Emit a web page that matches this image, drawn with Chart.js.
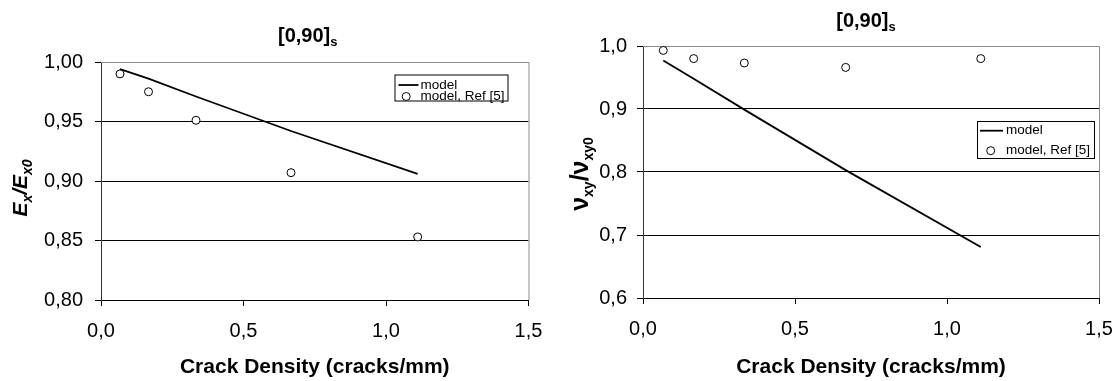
<!DOCTYPE html>
<html>
<head>
<meta charset="utf-8">
<script src="https://cdn.jsdelivr.net/npm/chart.js@4/dist/chart.umd.min.js"></script>
<style>
  html, body { margin:0; padding:0; background:#fff; }
  #wrap { position:relative; width:1118px; height:381px; }
  #c1 { position:absolute; left:0; top:0; }
  #c2 { position:absolute; left:560px; top:0; }
</style>
</head>
<body>
<div id="wrap">
  <canvas id="c1" width="560" height="381"></canvas>
  <canvas id="c2" width="558" height="381"></canvas>
</div>
<script>
// crack density (cracks/mm), shared by both panels
const crackDensity = [0.0667, 0.1667, 0.3333, 0.6667, 1.1111];
// E_x / E_x0
const exModel = [0.994, 0.986, 0.971, 0.942, 0.906];
const exRef   = [0.990, 0.975, 0.951, 0.907, 0.853];
// nu_xy / nu_xy0
const nuModel = [0.977, 0.948, 0.899, 0.803, 0.681];
const nuRef   = [0.993, 0.980, 0.973, 0.966, 0.980];

const seriesLabels = ['model', 'model, Ref [5]'];
const xTicks = [0, 0.5, 1.0, 1.5];

const FONT = "'Liberation Sans', Arial, sans-serif";
const pts = (xs, ys) => xs.map((x, i) => ({ x, y: ys[i] }));
const comma = d => v => v.toFixed(d).replace('.', ',');

function drawRich(ctx, parts, cx, by) {
  let w = 0;
  parts.forEach(p => { ctx.font = p.font; p.w = ctx.measureText(p.t).width; w += p.w; });
  let x = cx - w / 2;
  ctx.textAlign = 'left'; ctx.textBaseline = 'alphabetic'; ctx.fillStyle = '#000';
  parts.forEach(p => { ctx.font = p.font; ctx.fillText(p.t, x, by + (p.dy || 0)); x += p.w; });
}

// titles, frame, legend
const decor = {
  id: 'decor',
  beforeDatasetsDraw(chart, args, o) {
    const { ctx, chartArea: a } = chart;
    ctx.save();
    ctx.strokeStyle = '#8c8c8c'; ctx.lineWidth = 1;
    ctx.beginPath();
    ctx.moveTo(a.left, a.top + 0.5); ctx.lineTo(a.right + 0.5, a.top + 0.5); ctx.lineTo(a.right + 0.5, a.bottom);
    ctx.stroke();
    ctx.restore();
  },
  afterDraw(chart, args, o) {
    const { ctx, chartArea: a } = chart;
    const mid = (a.left + a.right) / 2;
    ctx.save();
    // chart title
    drawRich(ctx, [
      { t: '[0,90]', font: 'bold 20px ' + FONT },
      { t: 's', font: 'bold 13px ' + FONT, dy: 4 }
    ], mid + o.titleDx, o.titleY);
    // x axis title
    drawRich(ctx, [{ t: 'Crack Density (cracks/mm)', font: 'bold 21px ' + FONT }], mid, 373);
    // y axis title
    ctx.save();
    ctx.translate(o.yTitleX, o.yTitleY);
    ctx.rotate(-Math.PI / 2);
    drawRich(ctx, o.yTitle, 0, 0);
    ctx.restore();
    // legend
    const L = o.legend;
    const bx = a.right - L.right - L.w, by = a.top + L.top;
    ctx.fillStyle = '#fff'; ctx.fillRect(bx, by, L.w, L.h);
    ctx.strokeStyle = '#000'; ctx.lineWidth = 1;
    ctx.strokeRect(bx + 0.5, by + 0.5, L.w, L.h);
    const ds = chart.data.datasets;
    ctx.font = '13.5px ' + FONT; ctx.textBaseline = 'middle'; ctx.textAlign = 'left'; ctx.fillStyle = '#000';
    ctx.beginPath();
    ctx.lineWidth = ds[0].borderWidth; ctx.strokeStyle = ds[0].borderColor;
    ctx.moveTo(bx + L.l0, by + L.r1); ctx.lineTo(bx + L.l1, by + L.r1); ctx.stroke();
    ctx.fillText(ds[0].label, bx + L.tx, by + L.r1);
    ctx.beginPath();
    ctx.lineWidth = 1; ctx.strokeStyle = ds[1].borderColor; ctx.fillStyle = '#fff';
    ctx.arc(bx + L.cx, by + L.r2, ds[1].pointRadius, 0, Math.PI * 2); ctx.fill(); ctx.stroke();
    ctx.fillStyle = '#000';
    ctx.fillText(ds[1].label, bx + L.tx, by + L.r2);
    ctx.restore();
  }
};

function makeChart(id, model, ref, yMin, yMax, yStep, dec, yW, padRight, padTop, xH, labPad, decorOpts) {
  return new Chart(document.getElementById(id), {
    type: 'scatter',
    data: {
      datasets: [
        { label: seriesLabels[0], data: pts(crackDensity, model), showLine: true, borderColor: '#000',
          borderWidth: 1.8, pointRadius: 0, order: 2 },
        { label: seriesLabels[1], data: pts(crackDensity, ref), showLine: false, borderColor: '#000',
          backgroundColor: '#fff', borderWidth: 1, pointRadius: 4, order: 1 }
      ]
    },
    options: {
      responsive: false, animation: false, devicePixelRatio: 1,
      layout: { padding: { top: padTop, right: padRight, left: 0, bottom: 0 } },
      plugins: { legend: { display: false }, title: { display: false }, tooltip: { enabled: false }, decor: decorOpts },
      scales: {
        x: {
          type: 'linear', min: 0, max: 1.5,
          afterBuildTicks: s => { s.ticks = xTicks.map(v => ({ value: v })); },
          afterFit: s => { s.height = xH; s.paddingLeft = 0; s.paddingRight = 0; },
          ticks: { callback: comma(1), color: '#000', font: { family: FONT, size: 20 }, padding: 13, maxRotation: 0 },
          grid: { drawOnChartArea: false, drawTicks: true, tickLength: 6, tickColor: '#000' },
          border: { color: '#000', width: 1 }
        },
        y: {
          type: 'linear', min: yMin, max: yMax,
          ticks: { stepSize: yStep, callback: comma(dec), color: '#000', font: { family: FONT, size: 20 }, padding: labPad },
          afterFit: s => { s.width = yW; },
          grid: { color: c => (c.tick && Math.abs(c.tick.value - yMax) < 1e-6) ? 'rgba(0,0,0,0)' : '#000',
                  lineWidth: 1, drawTicks: true, tickLength: 6, tickColor: '#000' },
          border: { color: '#333', width: 1 }
        }
      }
    },
    plugins: [decor]
  });
}

makeChart('c1', exModel, exRef, 0.80, 1.00, 0.05, 2, 101, 31.5, 62, 81, 12, {
  titleDx: -7, titleY: 42,
  yTitleX: 27, yTitleY: 188,
  yTitle: [
    { t: 'E', font: 'italic bold 21px ' + FONT },
    { t: 'x', font: 'italic bold 14px ' + FONT, dy: 5 },
    { t: '/E', font: 'italic bold 21px ' + FONT },
    { t: 'x0', font: 'italic bold 14px ' + FONT, dy: 5 }
  ],
  legend: { right: 21, top: 12.5, w: 113, h: 26, l0: 4, l1: 24, tx: 26, cx: 11.7, r1: 10.5, r2: 22 }
});

makeChart('c2', nuModel, nuRef, 0.6, 1.0, 0.1, 1, 83, 19, 46, 83, 10, {
  titleDx: -5, titleY: 27,
  yTitleX: 28, yTitleY: 174,
  yTitle: [
    { t: 'ν', font: 'bold 25px ' + FONT },
    { t: 'xy', font: 'bold 14px ' + FONT, dy: 5 },
    { t: '/ν', font: 'bold 25px ' + FONT },
    { t: 'xy0', font: 'bold 14px ' + FONT, dy: 5 }
  ],
  legend: { right: 5, top: 75, w: 117, h: 37, l0: 3, l1: 26, tx: 29, cx: 13.7, r1: 9.7, r2: 29.7 }
});
</script>
</body>
</html>
